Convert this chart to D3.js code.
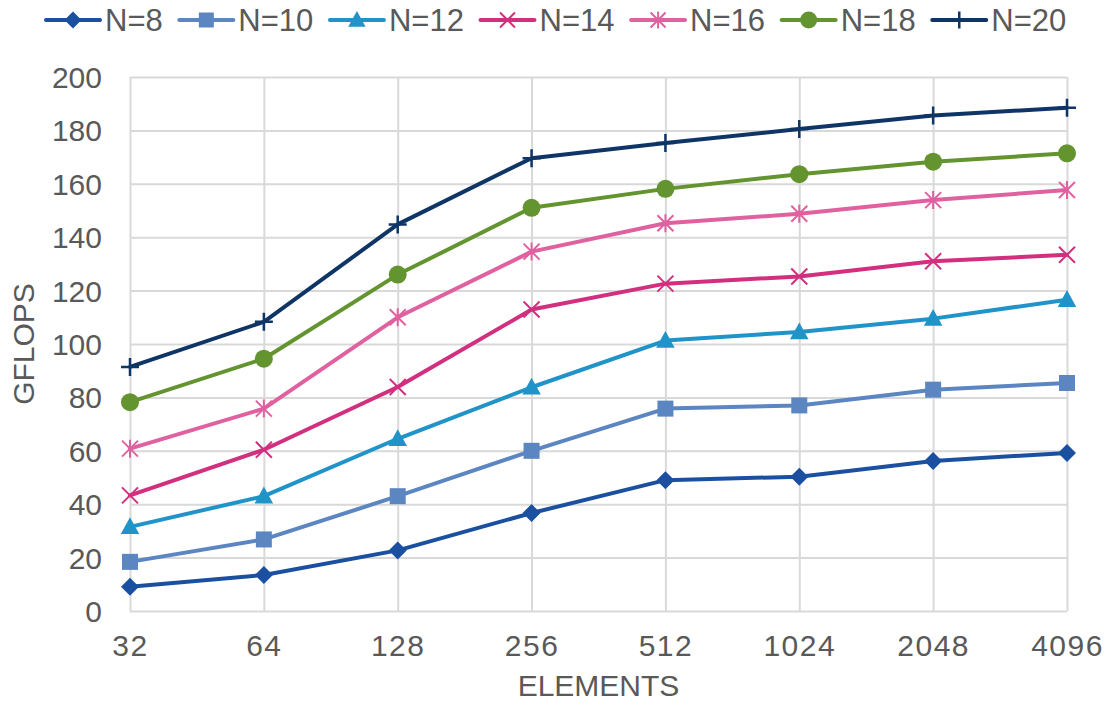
<!DOCTYPE html>
<html>
<head>
<meta charset="utf-8">
<script src="https://cdn.jsdelivr.net/npm/d3@7"></script>
<style>
  body { margin: 0; background: #fff; }
  text { font-family: "Liberation Sans", Arial, sans-serif; fill: #595959; }
</style>
</head>
<body>
<div id="container"></div>
<script>
// data
let elements = ["32", "64", "128", "256", "512", "1024", "2048", "4096"];
let seriesNames = ["N=8", "N=10", "N=12", "N=14", "N=16", "N=18", "N=20"];
let n8  = [9.1, 13.5, 22.7, 36.7, 49.0, 50.3, 56.2, 59.2];
let n10 = [18.4, 26.8, 43.0, 60.0, 75.8, 77.0, 82.9, 85.4];
let n12 = [31.5, 43.0, 64.5, 83.8, 101.3, 104.5, 109.5, 116.6];
let n14 = [43.3, 60.4, 83.9, 112.9, 122.6, 125.3, 131.0, 133.4];
let n16 = [60.8, 75.8, 110.0, 134.6, 145.2, 148.8, 153.9, 157.7];
let n18 = [78.2, 94.5, 126.0, 151.0, 158.1, 163.6, 168.3, 171.4];
let n20 = [91.4, 108.3, 144.8, 169.6, 175.3, 180.5, 185.6, 188.5];
let allSeries = [n8, n10, n12, n14, n16, n18, n20];
let colors = ["#1b50a1", "#5b86c1", "#2094c8", "#d22f7f", "#e0619f", "#639430", "#0e3565"];
let markers = ["diamond", "square", "triangle", "x", "star", "circle", "plus"];
let yTicks = [0, 20, 40, 60, 80, 100, 120, 140, 160, 180, 200];

let w = 1117;
let h = 702;
let plotLeft = 130, plotRight = 1067, plotTop = 77, plotBottom = 611;

let viz = d3.select("#container")
  .append("svg")
    .attr("width", w)
    .attr("height", h);

let xScale = d3.scalePoint().domain(elements).range([plotLeft, plotRight]);
let yScale = d3.scaleLinear().domain([0, 200]).range([plotBottom, plotTop]);

// vertical grid + x labels
let xAxis = d3.axisBottom(xScale).tickSize(-(plotBottom - plotTop)).tickPadding(0);
let xAxisGroup = viz.append("g")
  .attr("transform", "translate(0," + plotBottom + ")")
  .call(xAxis);
xAxisGroup.select(".domain").remove();
xAxisGroup.selectAll("line").attr("stroke", "#d9d9d9").attr("stroke-width", 2);
xAxisGroup.selectAll("text")
  .attr("y", 45).attr("dy", null)
  .attr("font-size", 30)
  .attr("letter-spacing", 1.5)
  .attr("fill", "#595959");

// horizontal grid + y labels
let yAxis = d3.axisLeft(yScale).tickValues(yTicks).tickSize(-(plotRight - plotLeft)).tickPadding(0);
let yAxisGroup = viz.append("g")
  .attr("transform", "translate(" + plotLeft + ",0)")
  .call(yAxis);
yAxisGroup.select(".domain").remove();
yAxisGroup.selectAll("line").attr("stroke", "#d9d9d9").attr("stroke-width", 2);
yAxisGroup.selectAll("text")
  .attr("x", -28).attr("dy", "0.35em")
  .attr("font-size", 30)
  .attr("fill", "#595959");

// axis titles
viz.append("text")
  .attr("x", (plotLeft + plotRight) / 2).attr("y", 696)
  .attr("text-anchor", "middle")
  .attr("font-size", 30)
  .text("ELEMENTS");
viz.append("text")
  .attr("transform", "translate(34," + ((plotTop + plotBottom) / 2) + ") rotate(-90)")
  .attr("text-anchor", "middle")
  .attr("font-size", 30)
  .text("GFLOPS");

// marker drawing
function drawMarker(g, type, color, s) {
  if (type == "diamond") {
    let r = s / 2 + 1;
    g.append("path").attr("d", "M0," + (-r) + "L" + r + ",0L0," + r + "L" + (-r) + ",0Z").attr("fill", color);
  } else if (type == "square") {
    g.append("rect").attr("x", -s / 2).attr("y", -s / 2).attr("width", s).attr("height", s).attr("fill", color);
  } else if (type == "triangle") {
    g.append("path").attr("d", "M0," + (-s * 0.6) + "L" + (s * 0.58) + "," + (s * 0.45) + "L" + (-s * 0.58) + "," + (s * 0.45) + "Z").attr("fill", color);
  } else if (type == "circle") {
    g.append("circle").attr("r", s / 2 + 1).attr("fill", color);
  } else if (type == "x") {
    let r = s / 2;
    g.append("path").attr("d", "M" + (-r) + "," + (-r) + "L" + r + "," + r + "M" + (-r) + "," + r + "L" + r + "," + (-r))
      .attr("stroke", color).attr("stroke-width", 2).attr("fill", "none");
  } else if (type == "star") {
    let r = s / 2;
    g.append("path").attr("d", "M" + (-r) + "," + (-r) + "L" + r + "," + r + "M" + (-r) + "," + r + "L" + r + "," + (-r) + "M0," + (-r - 1) + "L0," + (r + 1))
      .attr("stroke", color).attr("stroke-width", 2).attr("fill", "none");
  } else if (type == "plus") {
    let r = s / 2 + 1;
    g.append("path").attr("d", "M" + (-r) + ",0L" + r + ",0M0," + (-r) + "L0," + r)
      .attr("stroke", color).attr("stroke-width", 2.5).attr("fill", "none");
  }
}

// the lines
let line = d3.line()
  .x(function(d, i) { return xScale(elements[i]); })
  .y(function(d) { return yScale(d); });

let graphGroup = viz.append("g").classed("graphGroup", true);
allSeries.forEach(function(values, k) {
  let sg = graphGroup.append("g");
  sg.append("path")
    .attr("d", line(values))
    .attr("fill", "none")
    .attr("stroke", colors[k])
    .attr("stroke-width", 4)
    .attr("stroke-linejoin", "round")
    .attr("stroke-linecap", "round");
  values.forEach(function(v, i) {
    let mg = sg.append("g").attr("transform", "translate(" + xScale(elements[i]) + "," + yScale(v) + ")");
    drawMarker(mg, markers[k], colors[k], 16);
  });
});

// legend
let legend = viz.append("g");
let lx = 46;
seriesNames.forEach(function(name, k) {
  let lg = legend.append("g");
  lg.append("line")
    .attr("x1", lx).attr("x2", lx + 54)
    .attr("y1", 20).attr("y2", 20)
    .attr("stroke", colors[k]).attr("stroke-width", 4).attr("stroke-linecap", "round");
  let mg = lg.append("g").attr("transform", "translate(" + (lx + 27) + ",20)");
  drawMarker(mg, markers[k], colors[k], 15);
  let t = lg.append("text")
    .attr("x", lx + 59).attr("y", 31)
    .attr("font-size", 31)
    .text(name);
  lx = lx + 59 + t.node().getComputedTextLength() + 16.6;
});
</script>
</body>
</html>
